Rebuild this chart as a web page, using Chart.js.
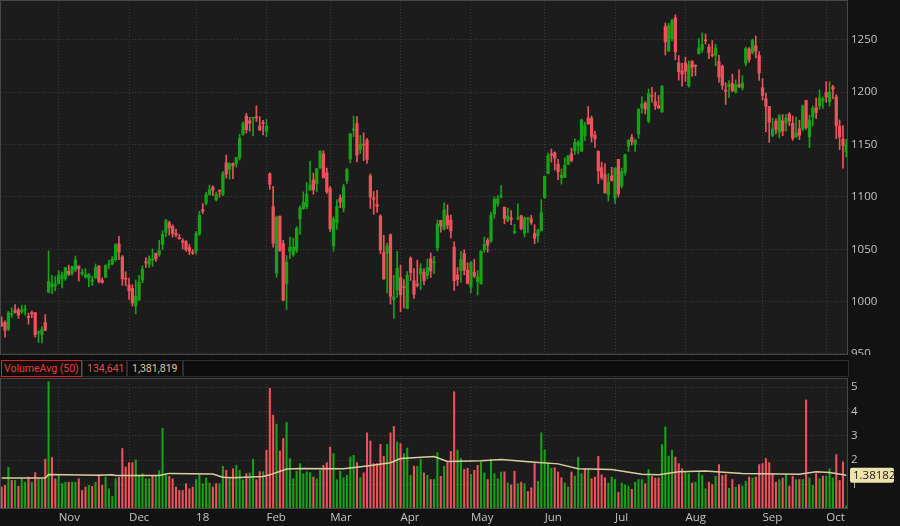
<!DOCTYPE html>
<html>
<head>
<meta charset="utf-8">
<script src="https://cdn.jsdelivr.net/npm/chart.js@4.4.1/dist/chart.umd.min.js"></script>
<style>
  html, body { margin: 0; padding: 0; background: #121212; }
  #wrap { position: relative; width: 900px; height: 526px; overflow: hidden; background: #121212; font-family: "Open Sans", sans-serif; }
  #price { position: absolute; left: 0; top: 0; }
  #vol { position: absolute; left: 0; top: 378px; }
  #strip { position: absolute; left: 0; top: 355px; width: 849px; height: 23px; background: #0d0d0d; }
  .box { position: absolute; top: 5px; height: 17px; border: 1px solid #2e2e2e; font-family: Roboto, sans-serif; font-size: 10.5px; line-height: 15px; padding: 0 2px; box-sizing: border-box; white-space: nowrap; overflow: hidden; }
</style>
</head>
<body>
<div id="wrap">
  <canvas id="price" width="900" height="355"></canvas>
  <div id="strip">
    <div class="box" style="left:1px;width:81px;border-color:#e01e1e;color:#ec3b3b;">VolumeAvg (50)</div>
    <div class="box" id="lastVol" style="left:82px;width:45px;color:#e44c4c;padding-left:4px;"></div>
    <div class="box" id="avgVol" style="left:127px;width:56px;color:#d6c89a;padding-left:4px;"></div>
    <div class="box" style="left:183px;width:666px;"></div>
  </div>
  <canvas id="vol" width="900" height="148"></canvas>
</div>
<script>
'use strict';

// daily candles, Oct 9 2017 .. Oct 9 2018 (one row per month)
const opens = [
  980, 980, 973.7, 987.45, 992, 992, 990.3, 991.8, 986, 989.4, 989.5, 970, 968.37, 980, 1009.19, 1014, 1015.22,
  1017.21, 1021.76, 1022.11, 1028.99, 1027.27, 1030.52, 1033.99, 1026.46, 1023.42, 1022.59, 1019.21, 1022.52, 1034.01, 1020.26, 1023.31, 1035, 1035.87, 1040, 1055.09, 1042.68, 1022.37,
  1015.8, 1012.66, 995.94, 1001.5, 1020.43, 1037.49, 1035.5, 1039.63, 1046.12, 1045, 1054.61, 1066.08, 1075.2, 1071.78, 1064.95, 1061.11, 1058.07, 1057.39, 1051.6, 1046.72,
  1048.34, 1064.31, 1088, 1094, 1102.23, 1109.4, 1097.1, 1106.3, 1102.41, 1132.51, 1126.22, 1131.41, 1131.83, 1137.49, 1159.85, 1177.33, 1172.53, 1175.08, 1176.48, 1167.83, 1170.57,
  1162.61, 1122, 1090.6, 1027.18, 1081.54, 1055.41, 1017.25, 1048, 1045, 1048.95, 1079.07, 1088.41, 1090.57, 1106.47, 1116.19, 1112.64, 1127.8, 1141.24, 1123.03,
  1107.87, 1053.08, 1075.14, 1099.22, 1089.19, 1115.32, 1136, 1163.85, 1170, 1145.21, 1149.96, 1154.14, 1120.01, 1099, 1092.74, 1081.88, 1047.03, 1046, 1063.9, 1001.91, 1011.21,
  1022.82, 1013.91, 993.41, 1041.33, 1020, 1016.8, 1026.44, 1027.99, 1025.04, 1040.88, 1037, 1051.37, 1077.43, 1069.27, 1082, 1077.86, 1052, 1025.52, 1029.51, 1046, 1030.01,
  1013.66, 1028.1, 1019, 1016.9, 1049.23, 1058.54, 1058.1, 1083.56, 1093.6, 1100, 1090, 1077.31, 1079.89, 1066, 1079, 1081.88, 1065.13, 1079, 1079.02, 1064.89, 1063.03, 1067.56,
  1099.35, 1122.33, 1140.99, 1142.17, 1131.32, 1118.18, 1118.6, 1131.07, 1141.12, 1143.85, 1148.86, 1143.65, 1158.5, 1175.31, 1174.85, 1159.14, 1143.6, 1128, 1121.34, 1102.09, 1120,
  1099, 1135.82, 1110.53, 1123.58, 1148.48, 1156.98, 1150.11, 1159.89, 1185, 1189.39, 1172.22, 1196.56, 1191, 1186.96, 1181.01, 1262.59, 1239.13, 1251, 1271, 1228.01, 1220.01,
  1228, 1205.9, 1229.62, 1225, 1237, 1240.47, 1249.9, 1243, 1235.19, 1235.19, 1229.26, 1224.73, 1202.03, 1205.02, 1208.22, 1200, 1207.14, 1204, 1227.6, 1241.29, 1237.45, 1244.23, 1234.98,
  1204.27, 1193.8, 1186.3, 1158.67, 1172.19, 1161.63, 1172.72, 1170.74, 1179.1, 1170.14, 1157.09, 1164.98, 1164.99, 1192, 1157.17, 1176.15, 1185.15, 1186.73, 1191.87,
  1199.89, 1190.96, 1205, 1195.33, 1167.5, 1155, 1143
];
const highs = [
  985.4, 981.6, 990.7, 994.12, 997.21, 993.91, 996.4, 996.7, 988.9, 991, 989.5, 972.23, 976.09, 987.6, 1048.39, 1024.97, 1024,
  1029.67, 1028.09, 1032.65, 1034.87, 1033.97, 1043.52, 1033.99, 1030.76, 1031.58, 1026.81, 1024.09, 1035.92, 1034.42, 1022.61, 1035.11, 1039.71, 1043.18, 1055.46, 1062.38, 1044.08, 1028.49,
  1022.49, 1016.1, 1020.61, 1024.97, 1034.24, 1042.05, 1043.8, 1050.31, 1046.67, 1058.5, 1067.62, 1078.49, 1076.84, 1073.38, 1069.33, 1064.2, 1060.12, 1058.37, 1054.75, 1049.7,
  1066.94, 1086.29, 1093.57, 1104.25, 1111.27, 1110.57, 1104.6, 1106.53, 1124.29, 1139.91, 1132.6, 1132.51, 1137.86, 1159.88, 1171.63, 1179.86, 1175.94, 1175.84, 1186.89, 1176.52, 1173,
  1174, 1123.07, 1110, 1081.71, 1081.78, 1058.62, 1043.97, 1061.5, 1060.55, 1071.72, 1091.48, 1104.67, 1113.95, 1133.97, 1122.82, 1127.28, 1143.96, 1144.04, 1127.53,
  1110.12, 1081, 1097.1, 1101.85, 1112.22, 1127.6, 1160.8, 1177.05, 1176.76, 1158.59, 1161.08, 1155.88, 1121.99, 1105.2, 1106.3, 1082.9, 1063.36, 1055.63, 1064.54, 1024.99, 1048.05,
  1034.8, 1020.99, 1028.72, 1042.79, 1031.42, 1039.6, 1036.28, 1031.36, 1040.69, 1046.42, 1043.24, 1077.88, 1077.43, 1094.24, 1092.35, 1082.72, 1057, 1032.49, 1047.98, 1049.5, 1037,
  1038.47, 1040.39, 1029.68, 1048.51, 1061.68, 1060.55, 1085.44, 1100, 1101.33, 1110.75, 1090.37, 1089.27, 1086.87, 1073.73, 1093.3, 1082.56, 1080.78, 1080.47, 1082.56, 1073.37, 1069.21, 1097.19,
  1120, 1141.89, 1145.74, 1143, 1135.82, 1126.67, 1137.26, 1139.79, 1146.5, 1155.47, 1153.82, 1174.31, 1171.27, 1186.29, 1177.3, 1162.5, 1143.91, 1133.21, 1131.84, 1122.31, 1128.23,
  1128, 1135.82, 1127.5, 1140.93, 1154.67, 1159.59, 1155.44, 1184.41, 1195.42, 1191, 1203.04, 1204.5, 1200, 1196.86, 1206.49, 1266, 1265.86, 1269.77, 1273.89, 1234.92, 1227.59,
  1233.47, 1229.88, 1230, 1226.09, 1251.17, 1256.5, 1255.54, 1245.7, 1249.27, 1245.87, 1235.24, 1226, 1209.02, 1211, 1217.26, 1211.84, 1221.28, 1215.77, 1243, 1242.55, 1250.66, 1253.64, 1238.66,
  1212.99, 1199.01, 1186.3, 1175.26, 1174.54, 1178.68, 1178.61, 1178.61, 1180.43, 1177.24, 1176.08, 1173.21, 1187.7, 1192.21, 1178, 1186.88, 1194.23, 1202.1, 1195.41,
  1209.9, 1209.96, 1206.41, 1197.51, 1173.5, 1168, 1155
];
const lows = [
  976.1, 966.1, 972.3, 985, 989, 984, 988.6, 986.97, 978.4, 984.6, 966.1, 961, 960.52, 972.2, 1008.2, 1007.5, 1010.42,
  1016.95, 1013.01, 1020.31, 1025, 1025.13, 1028.45, 1019.67, 1025.28, 1022.57, 1014.15, 1015.42, 1022.52, 1017.75, 1017.5, 1022.66, 1031.43, 1035, 1038.44, 1040, 1015.65, 1015,
  1002.02, 995.57, 988.28, 1001.14, 1018.07, 1032.52, 1032.3, 1033.69, 1038.38, 1043.11, 1049.5, 1062, 1063.55, 1061.52, 1061.79, 1059.44, 1050.2, 1048.05, 1044.77, 1044.9,
  1045.23, 1063.21, 1084, 1092, 1101.62, 1101.23, 1096.11, 1099.59, 1101.15, 1117.83, 1117.01, 1117.5, 1128.3, 1135.11, 1158.75, 1161.05, 1162.76, 1158.11, 1171.98, 1163.52, 1159.13,
  1157.52, 1107.28, 1052.03, 1023.14, 1048.26, 1000.66, 992.56, 1040.93, 1043.17, 1046.75, 1064.34, 1088.31, 1088.52, 1106.33, 1102.59, 1104.71, 1126.69, 1118, 1103.24,
  1067, 1048.11, 1069, 1089.78, 1085.48, 1112.8, 1132.46, 1157.42, 1133.33, 1141.44, 1134.54, 1131.96, 1089.01, 1083.46, 1085.15, 1045.91, 1021.22, 1008.4, 997.62, 984, 1004.04,
  990.37, 994.07, 993, 1020.13, 1003.03, 1014.08, 1011.34, 1015.87, 1021.49, 1022.98, 1026.74, 1048.26, 1066.22, 1068.18, 1069.57, 1060.7, 1010.59, 1015.31, 1018.19, 1025.59, 1016.85,
  1008.21, 1022.87, 1006.29, 1016.9, 1047.1, 1047.14, 1056.37, 1079.66, 1090.91, 1099.11, 1074.25, 1076.26, 1073.5, 1064.68, 1078, 1068.5, 1061.71, 1066.15, 1073.77, 1055.22, 1056.83, 1067.56,
  1098.5, 1122.01, 1133.19, 1125.74, 1116.52, 1112.15, 1118.6, 1130.74, 1133.38, 1140.64, 1141.09, 1143.59, 1154.01, 1169.16, 1152.23, 1147.26, 1112.78, 1116.66, 1103.62, 1096.01, 1115,
  1093.8, 1100.02, 1108.48, 1120.74, 1143.42, 1149.59, 1143.4, 1155.94, 1180, 1179.25, 1170.6, 1190.34, 1183.32, 1184.22, 1181, 1235.56, 1239.13, 1249.02, 1231, 1211.47, 1205.6,
  1210.21, 1204.79, 1215.06, 1215.8, 1236.17, 1238.01, 1246.01, 1232, 1233.64, 1225.11, 1209.51, 1202.55, 1188.24, 1194.63, 1200.35, 1199, 1204.24, 1202, 1225, 1228.69, 1236.36, 1232.59, 1211.29,
  1192.5, 1162, 1152, 1157.22, 1160.11, 1156.24, 1158.36, 1162.85, 1168.14, 1154.03, 1157.09, 1154.58, 1163, 1164.57, 1146.91, 1168, 1174.77, 1183.63, 1184.5,
  1190.3, 1186.63, 1193.83, 1155.58, 1145.12, 1127.36, 1138
];
const closes = [
  977, 972.6, 989.25, 987.83, 989.68, 987, 992.18, 992.81, 984.45, 988.2, 968.45, 970.54, 973.33, 972.56, 1019.27, 1017.11, 1016.64,
  1025.5, 1025.58, 1032.48, 1025.9, 1033.33, 1039.85, 1031.26, 1028.07, 1025.75, 1026, 1020.91, 1032.5, 1019.09, 1018.38, 1034.49, 1035.96, 1040.61, 1054.21, 1047.41, 1021.66, 1021.41,
  1010.17, 998.68, 1005.15, 1018.38, 1030.93, 1037.05, 1041.1, 1040.48, 1040.61, 1049.15, 1064.19, 1077.14, 1070.68, 1064.95, 1063.63, 1060.12, 1056.74, 1049.37, 1048.14, 1046.4,
  1065, 1082.48, 1086.4, 1102.23, 1106.94, 1106.26, 1102.61, 1105.52, 1122.26, 1121.76, 1131.98, 1129.79, 1137.51, 1155.81, 1169.97, 1164.24, 1170.37, 1175.84, 1175.58, 1163.69, 1169.94,
  1167.7, 1111.9, 1055.8, 1080.6, 1048.58, 1001.52, 1037.78, 1051.94, 1052.1, 1069.7, 1089.52, 1094.8, 1102.46, 1111.34, 1106.63, 1126.79, 1143.75, 1118.29, 1104.73,
  1069.52, 1078.92, 1090.93, 1095.06, 1109.64, 1126, 1160.04, 1164.5, 1139.82, 1150.34, 1149.5, 1135.73, 1099.82, 1097.71, 1090.88, 1049.08, 1021.57, 1053.21, 1005.1, 1004.56, 1031.79,
  1006.47, 1013.41, 1025.14, 1027.81, 1007.04, 1015.45, 1031.64, 1019.97, 1032.51, 1029.27, 1037.98, 1074.16, 1072.08, 1087.7, 1072.96, 1067.45, 1019.98, 1021.18, 1040.04, 1030.05, 1017.33,
  1037.31, 1024.38, 1023.72, 1048.21, 1054.79, 1053.91, 1082.76, 1097.57, 1098.26, 1100.2, 1079.23, 1081.77, 1078.59, 1066.36, 1079.58, 1069.73, 1079.69, 1079.24, 1075.66, 1060.32, 1067.8, 1084.99,
  1119.5, 1139.29, 1139.66, 1136.88, 1123.86, 1120.87, 1129.99, 1139.32, 1134.79, 1152.12, 1152.26, 1173.46, 1168.06, 1169.84, 1157.66, 1155.48, 1124.81, 1118.46, 1103.98, 1114.22, 1115.65,
  1127.46, 1102.89, 1124.27, 1140.17, 1154.05, 1152.84, 1153.9, 1183.48, 1188.82, 1183.86, 1198.8, 1195.88, 1186.96, 1184.91, 1205.5, 1248.08, 1263.7, 1268.33, 1238.5, 1219.74, 1217.26,
  1220, 1226.15, 1223.71, 1224.77, 1242.22, 1245.61, 1249.1, 1237.61, 1235.01, 1242.1, 1214.38, 1206.49, 1200.96, 1207.77, 1201.62, 1207.33, 1205.38, 1208.82, 1241.82, 1231.15, 1249.3, 1239.12, 1218.19,
  1197, 1186.48, 1171.44, 1164.83, 1164.64, 1177.36, 1162.82, 1175.33, 1172.53, 1156.05, 1161.22, 1158.78, 1186.87, 1166.09, 1173.37, 1184.65, 1180.49, 1194.64, 1193.47,
  1195.31, 1200.11, 1202.95, 1168.19, 1157.35, 1148.97, 1150
];
// volume, millions of shares
const volumes = [
  0.90, 0.97, 1.71, 1.17, 1.17, 0.93, 1.24, 1.10, 1.31, 1.10, 1.49, 1.24, 1.24, 2.04, 5.22, 2.11, 1.24,
  1.38, 1.04, 1.10, 1.10, 1.10, 1.10, 1.24, 0.76, 0.90, 0.97, 0.93, 1.10, 1.41, 0.97, 1.31, 0.83, 0.51, 1.24, 1.30, 2.48, 1.72,
  1.90, 1.90, 2.02, 1.35, 1.45, 1.24, 1.24, 1.38, 1.38, 1.57, 3.30, 1.45, 1.34, 1.24, 0.90, 0.76, 0.76, 1.04, 0.83, 0.90,
  1.21, 1.42, 1.04, 1.27, 1.06, 0.90, 1.04, 1.04, 1.75, 1.59, 1.24, 1.65, 1.79, 1.59, 1.20, 1.45, 1.48, 2.04, 1.20, 1.53, 1.53,
  2.41, 4.95, 3.85, 3.48, 2.38, 2.89, 3.55, 2.07, 1.24, 1.55, 1.86, 1.45, 1.52, 1.49, 1.31, 1.24, 1.59, 1.79, 1.90,
  2.54, 2.27, 1.20, 1.55, 1.28, 1.38, 2.13, 2.20, 1.90, 1.28, 1.48, 3.12, 2.79, 1.86, 1.86, 2.65, 2.16, 2.65, 3.12, 3.39, 2.75,
  2.68, 2.27, 2.50, 1.38, 1.76, 1.75, 2.04, 1.48, 1.38, 1.21, 1.21, 2.31, 1.34, 1.75, 1.90, 2.36, 4.81, 2.41, 2.07, 1.62, 1.67,
  1.42, 1.59, 1.79, 1.93, 1.48, 1.21, 2.04, 1.45, 1.24, 1.52, 1.52, 1.07, 0.99, 1.55, 1.04, 1.10, 1.04, 0.72, 0.87, 1.86, 1.14, 3.12,
  2.43, 1.90, 1.67, 1.69, 1.52, 1.28, 1.07, 0.90, 1.52, 1.35, 2.13, 1.45, 1.65, 1.62, 1.24, 1.31, 2.16, 1.40, 1.28, 1.06, 1.31,
  1.21, 0.69, 1.06, 0.99, 0.93, 0.81, 1.10, 1.21, 1.21, 1.04, 1.62, 1.34, 1.27, 1.27, 2.64, 3.37, 2.17, 2.41, 2.13, 1.86, 1.65,
  1.52, 1.45, 1.07, 1.10, 1.49, 1.38, 0.83, 1.10, 1.00, 1.34, 1.82, 1.38, 1.41, 0.85, 1.21, 0.90, 1.00, 0.94, 1.14, 1.31, 1.27, 1.31, 1.82,
  1.86, 2.07, 1.90, 1.45, 1.10, 1.20, 1.27, 1.42, 0.94, 1.34, 1.20, 1.21, 1.21, 4.47, 1.27, 0.97, 1.45, 1.24, 1.35,
  1.35, 1.65, 1.27, 2.23, 1.17, 1.93, 0.13
];
// VolumeAvg (50) line, read at day positions
const avgDay = [0, 13, 14, 29, 33, 34, 47, 50, 63, 66, 69, 78, 80, 85, 89, 102, 109, 116, 119, 129, 133, 143, 149, 159, 166, 172, 182, 191, 196, 202, 210, 221, 238, 243, 247, 252];
const avgVal = [1.27, 1.27, 1.41, 1.38, 1.40, 1.37, 1.37, 1.46, 1.43, 1.30, 1.28, 1.33, 1.40, 1.64, 1.66, 1.65, 1.76, 1.90, 2.07, 2.15, 1.95, 1.98, 2.03, 1.92, 1.85, 1.65, 1.62, 1.42, 1.40, 1.53, 1.56, 1.46, 1.42, 1.53, 1.50, 1.38];
const lastVolume = 134641;
const avgVolume = 1381819;

const priceTicks = [950, 1000, 1050, 1100, 1150, 1200, 1250];
const volTicks = [1, 2, 3, 4, 5];
const monthStarts = [17, 38, 58, 79, 98, 119, 140, 162, 183, 204, 227, 246];
const monthNames = ['Nov', 'Dec', '18', 'Feb', 'Mar', 'Apr', 'May', 'Jun', 'Jul', 'Aug', 'Sep', 'Oct'];

const days = opens.map((o, i) => i);

const green = '#16a316', red = '#f0525c';
const gridColor = '#3a3a3a';
const tickFont = { family: '"Open Sans", sans-serif', size: 11.5 };
const tickColor = '#c2c2c2';

document.getElementById('lastVol').textContent = lastVolume.toLocaleString('en-US');
document.getElementById('avgVol').textContent = avgVolume.toLocaleString('en-US');

const candleColor = opens.map((o, i) => closes[i] >= o ? green : red);
const volColor = closes.map((c, i) => c >= (i ? closes[i - 1] : opens[0]) ? green : red);

function monthTicks(scale) {
    scale.ticks = monthStarts.map(v => ({ value: v }));
}

const panel = {
    id: 'panel',
    beforeDraw(chart) {
        const { ctx, chartArea: a } = chart;
        ctx.save();
        ctx.fillStyle = '#1c1c1c';
        ctx.fillRect(a.left, a.top, a.right - a.left, a.bottom - a.top);
        ctx.restore();
    },
    afterDraw(chart) {
        const { ctx, chartArea: a } = chart;
        ctx.save();
        ctx.strokeStyle = '#474747';
        ctx.lineWidth = 1;
        ctx.strokeRect(a.left + 0.5, a.top + 0.5, a.right - a.left - 1, a.bottom - a.top - 1);
        ctx.restore();
    }
};

// yellow box with the current average on the right axis
const avgTag = {
    id: 'avgTag',
    afterDraw(chart) {
        const { ctx, chartArea: a } = chart;
        const y = chart.scales.y.getPixelForValue(avgVal[avgVal.length - 1]);
        ctx.save();
        ctx.fillStyle = '#efe2ab';
        ctx.beginPath();
        ctx.roundRect(a.right + 2, y - 7.5, 44, 15, 2);
        ctx.fill();
        ctx.fillStyle = '#1a1a1a';
        ctx.font = '11.5px "Open Sans", sans-serif';
        ctx.textBaseline = 'middle';
        ctx.fillText((avgVolume / 1e6).toFixed(5), a.right + 5, y + 0.5);
        ctx.restore();
    }
};

new Chart(document.getElementById('price'), {
    type: 'bar',
    data: {
        labels: days,
        datasets: [
            {
                data: opens.map((o, i) => [o, closes[i]]),
                backgroundColor: candleColor,
                barThickness: 2.6,
                minBarLength: 1,
                grouped: false
            },
            {
                data: lows.map((l, i) => [l, highs[i]]),
                backgroundColor: candleColor,
                barThickness: 1,
                grouped: false
            }
        ]
    },
    options: {
        responsive: false,
        animation: false,
        layout: { padding: 0 },
        plugins: { legend: { display: false }, tooltip: { enabled: false } },
        scales: {
            x: {
                offset: true,
                grid: { offset: false, color: gridColor, drawTicks: false },
                border: { display: false, dash: [1, 2] },
                ticks: { display: false },
                afterBuildTicks: monthTicks,
                afterFit: s => { s.height = 0; s.paddingLeft = 0; s.paddingRight = 0; }
            },
            y: {
                position: 'right',
                min: 949,
                max: 1288,
                grid: { color: gridColor, drawTicks: false },
                border: { display: false, dash: [1, 2] },
                ticks: { color: tickColor, font: tickFont, padding: 3, callback: v => String(v) },
                afterBuildTicks: s => { s.ticks = priceTicks.map(v => ({ value: v })); },
                afterFit: s => { s.width = 52; s.paddingTop = 0; s.paddingBottom = 0; }
            }
        }
    },
    plugins: [panel]
});

new Chart(document.getElementById('vol'), {
    type: 'bar',
    data: {
        labels: days,
        datasets: [
            {
                type: 'line',
                data: avgDay.map((d, k) => ({ x: d, y: avgVal[k] })),
                borderColor: '#d9cd9f',
                borderWidth: 1.5,
                pointRadius: 0,
                order: 0
            },
            {
                data: volumes,
                backgroundColor: volColor,
                barThickness: 1.4,
                grouped: false,
                order: 1
            }
        ]
    },
    options: {
        responsive: false,
        animation: false,
        layout: { padding: 0 },
        plugins: { legend: { display: false }, tooltip: { enabled: false } },
        scales: {
            x: {
                offset: true,
                grid: { offset: false, color: gridColor, drawTicks: false },
                border: { display: false, dash: [1, 2] },
                ticks: {
                    color: tickColor, font: tickFont, padding: 2,
                    autoSkip: false, maxRotation: 0, align: 'start',
                    callback: (v, k) => monthNames[k]
                },
                afterBuildTicks: monthTicks,
                afterFit: s => { s.height = 17; s.paddingLeft = 0; s.paddingRight = 0; }
            },
            y: {
                position: 'right',
                min: 0,
                max: 5.37,
                grid: { color: gridColor, drawTicks: false },
                border: { display: false, dash: [1, 2] },
                ticks: { color: tickColor, font: tickFont, padding: 3 },
                afterBuildTicks: s => { s.ticks = volTicks.map(v => ({ value: v })); },
                afterFit: s => { s.width = 52; s.paddingTop = 0; s.paddingBottom = 0; }
            }
        }
    },
    plugins: [panel, avgTag]
});
</script>
</body>
</html>
